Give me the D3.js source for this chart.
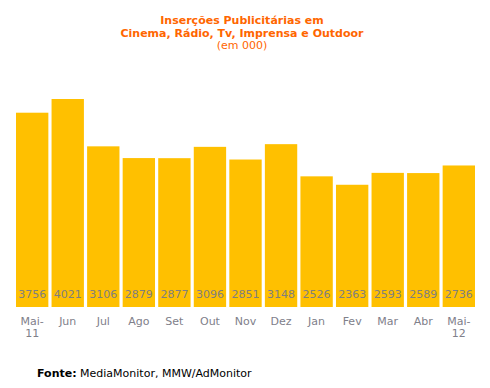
<!DOCTYPE html>
<html>
<head>
<meta charset="utf-8">
<script src="https://cdn.jsdelivr.net/npm/d3@7"></script>
<style>
  body { margin: 0; background: #fff; }
  svg text { font-family: "DejaVu Sans", Verdana, sans-serif; }
</style>
</head>
<body>
<div id="chart"></div>
<script>
// Data
var months = ["Mai-11", "Jun", "Jul", "Ago", "Set", "Out", "Nov", "Dez", "Jan", "Fev", "Mar", "Abr", "Mai-12"];
var values = [3756, 4021, 3106, 2879, 2877, 3096, 2851, 3148, 2526, 2363, 2593, 2589, 2736];
var titleLines = ["Inserções Publicitárias em", "Cinema, Rádio, Tv, Imprensa e Outdoor"];
var subtitle = "(em 000)";

// SVG area
var svgWidth = 490;
var svgHeight = 388;

var chartMargin = { top: 99, right: 15, bottom: 81, left: 16 };
var chartWidth = svgWidth - chartMargin.left - chartMargin.right;
var chartHeight = svgHeight - chartMargin.top - chartMargin.bottom;

var svg = d3.select("#chart")
    .append("svg")
    .attr("width", svgWidth)
    .attr("height", svgHeight);

var chartGroup = svg.append("g")
    .attr("transform", `translate(${chartMargin.left}, ${chartMargin.top})`);

// Scales
var xBandScale = d3.scaleBand()
    .domain(months)
    .range([0, chartWidth])
    .paddingInner(0.09)
    .paddingOuter(0);

var yLinearScale = d3.scaleLinear()
    .domain([0, d3.max(values)])
    .range([chartHeight, 0]);

var data = months.map((m, i) => ({ month: m, value: values[i] }));

// Bars
chartGroup.selectAll("rect")
    .data(data)
    .enter()
    .append("rect")
    .attr("x", d => xBandScale(d.month))
    .attr("y", d => yLinearScale(d.value))
    .attr("width", xBandScale.bandwidth())
    .attr("height", d => chartHeight - yLinearScale(d.value))
    .attr("fill", "#FFC000");

// Value labels inside bars
chartGroup.selectAll(".valueText")
    .data(data)
    .enter()
    .append("text")
    .classed("valueText", true)
    .attr("x", d => xBandScale(d.month) + xBandScale.bandwidth() / 2)
    .attr("y", chartHeight - 9)
    .attr("text-anchor", "middle")
    .attr("font-size", "11px")
    .attr("fill", "#7f7f7f")
    .text(d => d.value);

// Month labels (split on hyphen)
var monthLabels = chartGroup.selectAll(".monthText")
    .data(data)
    .enter()
    .append("text")
    .classed("monthText", true)
    .attr("x", d => xBandScale(d.month) + xBandScale.bandwidth() / 2)
    .attr("y", chartHeight + 18)
    .attr("text-anchor", "middle")
    .attr("font-size", "11px")
    .attr("fill", "#80808a");

monthLabels.each(function(d) {
    var parts = d.month.split("-");
    var t = d3.select(this);
    parts.forEach(function(p, i) {
        t.append("tspan")
            .attr("x", xBandScale(d.month) + xBandScale.bandwidth() / 2)
            .attr("dy", i === 0 ? 0 : 12)
            .text(i < parts.length - 1 ? p + "-" : p);
    });
});

// Title
var titleGroup = svg.append("g");
titleLines.forEach(function(line, i) {
    titleGroup.append("text")
        .attr("x", 242)
        .attr("y", 24 + i * 12.5)
        .attr("text-anchor", "middle")
        .attr("font-size", "11px")
        .attr("font-weight", "bold")
        .attr("fill", "#FF6600")
        .text(line);
});
titleGroup.append("text")
    .attr("x", 242)
    .attr("y", 49)
    .attr("text-anchor", "middle")
    .attr("font-size", "11px")
    .attr("fill", "#FF6600")
    .text(subtitle);

// Source
var source = svg.append("text")
    .attr("x", 37)
    .attr("y", 377)
    .attr("font-size", "11px")
    .attr("fill", "#000");
source.append("tspan").attr("font-weight", "bold").text("Fonte:");
source.append("tspan").text(" MediaMonitor, MMW/AdMonitor");
</script>
</body>
</html>
